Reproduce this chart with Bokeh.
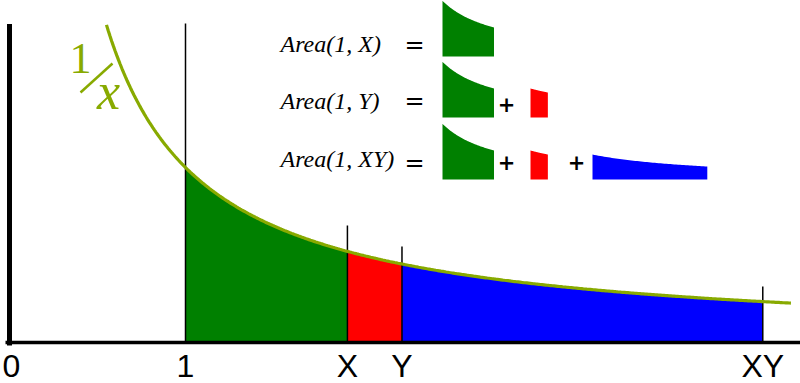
import numpy as np
from bokeh.plotting import figure
from bokeh.models import Range1d
from bokeh.core.properties import value
from bokeh.embed import file_html
from bokeh.resources import INLINE

# ---------------- data ----------------
X_VAL = 1.92
Y_VAL = 2.23
XY_VAL = 4.28
tick_positions = [0, 1, X_VAL, Y_VAL, XY_VAL]
tick_labels = ["0", "1", "X", "Y", "XY"]
region_starts = [1, X_VAL, Y_VAL]
region_ends = [X_VAL, Y_VAL, XY_VAL]
region_colors = ["#008000", "#ff0000", "#0000ff"]
marker_x = [1, X_VAL, Y_VAL, XY_VAL]
marker_tops = [1.823, 0.669, 0.549, 0.32]
curve_start, curve_end = 0.551, 4.44
yaxis_top = 1.82
eq_labels = ["Area(1, X)", "Area(1, Y)", "Area(1, XY)"]
eq_regions = [[0], [0, 1], [0, 1, 2]]

# ---------------- layout helpers (pixel -> data) ----------------
W, H = 800, 383
OX, OY = 9.0, 342.0
SX, SY = 176.0, 175.0


def dx(px):
    return (px - OX) / SX


def dy(py):
    return (OY - py) / SY


p = figure(width=W, height=H, x_range=Range1d(dx(0), dx(W)), y_range=Range1d(dy(H), dy(0)),
           x_axis_location=None, y_axis_location=None, toolbar_location=None,
           output_backend="svg", min_border=0)
p.outline_line_color = None
p.grid.visible = False
p.background_fill_color = "white"

# filled regions under 1/x
for a, b, c in zip(region_starts, region_ends, region_colors):
    xs = np.linspace(a, b, 120)
    p.varea(x=xs, y1=0, y2=1.0 / xs, fill_color=c)

# vertical markers
p.segment(x0=marker_x, y0=[0] * len(marker_x), x1=marker_x, y1=marker_tops,
          line_color="black", line_width=1.5)

# curve 1/x
cx = np.linspace(curve_start, curve_end, 400)
p.line(cx, 1.0 / cx, line_color="#88aa00", line_width=3.2)

# axes lines
p.line([dx(5), dx(W)], [0, 0], line_color="black", line_width=3.5)
p.line([0, 0], [dy(345), yaxis_top], line_color="black", line_width=5)

# tick labels
tick_px = [11, 185, 346.4, 402.5, 762]
p.text(x=tick_positions, y=[dy(365)] * len(tick_positions), text=tick_labels,
       text_align="center", text_baseline="middle",
       text_font=value("Liberation Sans"), text_font_size="32px", text_color="black",
       x_offset=[2, 0, 0, 0, 0])

# 1/x label
GREEN_L = "#88aa00"
p.text(x=[dx(80)], y=[dy(58)], text=["1"], text_align="center", text_baseline="middle",
       text_font=value("Liberation Serif"), text_font_size="44px", text_color=GREEN_L)
p.segment(x0=[dx(80)], y0=[dy(92)], x1=[dx(112)], y1=[dy(63)], line_color=GREEN_L, line_width=2.5)
p.text(x=[dx(108)], y=[dy(91)], text=["x"], text_align="center", text_baseline="middle",
       text_font=value("Liberation Serif"), text_font_style="italic", text_font_size="52px",
       text_color=GREEN_L)

# equations
eq_mid_text = [43, 100, 158]
eq_mid = [44, 100, 162]
mini_bottoms = [56, 117, 179]
mini_lefts = [442, 530, 592]
plus_x = [506, 576]
plus_y = [None, 103, 161]
s = 56.0 / SX

p.text(x=[dx(280)] * 3, y=[dy(b) for b in eq_mid_text], text=eq_labels,
       text_align="left", text_baseline="middle",
       text_font=value("Liberation Serif"), text_font_style="italic", text_font_size="24px",
       text_color="black")
p.text(x=[dx(414)] * 3, y=[dy(m) for m in eq_mid], text=["="] * 3,
       text_align="center", text_baseline="middle",
       text_font=value("DejaVu Sans"), text_font_size="24px", text_color="black")

for row, regs in enumerate(eq_regions):
    base = dy(mini_bottoms[row])
    for k in regs:
        a, b = region_starts[k], region_ends[k]
        xs = np.linspace(a, b, 60)
        mx = dx(mini_lefts[k]) + (xs - a) * s
        p.varea(x=mx, y1=base, y2=base + (1.0 / xs) * s, fill_color=region_colors[k])
    if len(regs) > 1:
        n = len(regs) - 1
        p.text(x=[dx(v) for v in plus_x[:n]], y=[dy(plus_y[row])] * n, text=["+"] * n,
               text_align="center", text_baseline="middle",
               text_font=value("DejaVu Sans"), text_font_style="bold", text_font_size="21px",
               text_color="black")

open("out.html", "w").write(file_html(p, INLINE))
